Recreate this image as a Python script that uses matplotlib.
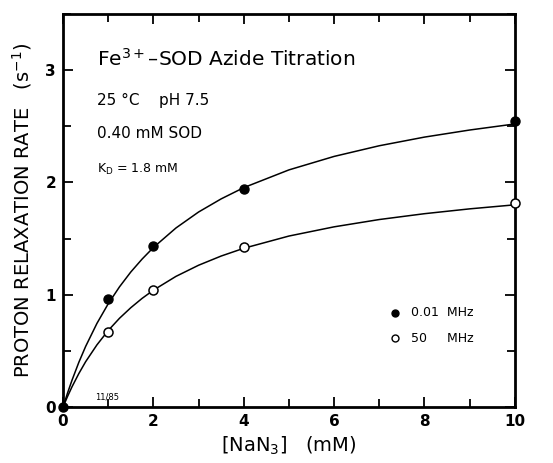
import matplotlib
matplotlib.use("Agg")
import matplotlib.pyplot as plt
from matplotlib.ticker import MultipleLocator

# measured points
x_pts = [0, 1, 2, 4, 10]
y_low = [0, 0.96, 1.43, 1.94, 2.55]    # 0.01 MHz (filled)
y_high = [0, 0.67, 1.04, 1.42, 1.82]   # 50 MHz (open)

# curves
x_curve = [0, 0.1, 0.2, 0.35, 0.5, 0.75, 1, 1.25, 1.5, 1.75, 2, 2.5, 3, 3.5,
           4, 5, 6, 7, 8, 9, 10]
c_low = [0, 0.125, 0.240, 0.398, 0.539, 0.744, 0.919, 1.070, 1.202, 1.317,
         1.42, 1.594, 1.736, 1.853, 1.953, 2.111, 2.231, 2.326, 2.403, 2.466, 2.52]
c_high = [0, 0.094, 0.181, 0.298, 0.403, 0.553, 0.681, 0.790, 0.884, 0.967,
          1.04, 1.163, 1.262, 1.344, 1.413, 1.522, 1.604, 1.669, 1.721, 1.764, 1.80]

x_ticks = [0, 2, 4, 6, 8, 10]
y_ticks = [0, 1, 2, 3]

plt.rcParams['font.family'] = ['DejaVu Sans']
fig = plt.figure(figsize=(5.53, 4.63), dpi=100)
ax = fig.add_axes([0.114, 0.121, 0.817, 0.849])

ax.plot(x_curve, c_low, color='black', lw=1.1, zorder=2)
ax.plot(x_curve, c_high, color='black', lw=1.1, zorder=2)
ax.plot(x_pts, y_low, 'o', ms=6.5, mfc='black', mec='black', zorder=3, clip_on=False)
ax.plot(x_pts[1:], y_high[1:], 'o', ms=6.5, mfc='white', mec='black', mew=1.1,
        zorder=3, clip_on=False)

ax.set_xlim(0, 10)
ax.set_ylim(0, 3.5)
ax.set_xticks(x_ticks)
ax.set_yticks(y_ticks)
ax.xaxis.set_minor_locator(MultipleLocator(1))
ax.yaxis.set_minor_locator(MultipleLocator(0.5))
ax.tick_params(which='both', direction='in', top=True, right=True, width=1.3)
ax.tick_params(which='major', length=7, labelsize=11, pad=5)
ax.tick_params(which='minor', length=6)
for lab in ax.get_xticklabels() + ax.get_yticklabels():
    lab.set_fontweight('bold')
for s in ax.spines.values():
    s.set_linewidth(2)

ax.set_xlabel(r'[NaN$_3$]   (mM)', fontsize=14, labelpad=4)
ax.set_ylabel(r'PROTON RELAXATION RATE   (s$^{-1}$)', fontsize=14, labelpad=8)

ax.text(0.075, 0.885, 'Fe$^{3+}$\u2013SOD Azide Titration', transform=ax.transAxes,
        fontsize=14.5, va='center', ha='left')
ax.text(0.075, 0.78, '25 \u00b0C    pH 7.5', transform=ax.transAxes,
        fontsize=11, va='center', ha='left')
ax.text(0.075, 0.695, '0.40 mM SOD', transform=ax.transAxes,
        fontsize=11, va='center', ha='left')
ax.text(0.075, 0.605, r'K$_\mathrm{D}$ = 1.8 mM', transform=ax.transAxes,
        fontsize=9, va='center', ha='left')

# legend drawn manually
ax.plot([0.735], [0.24], 'o', ms=5, mfc='black', mec='black', transform=ax.transAxes)
ax.plot([0.735], [0.175], 'o', ms=5, mfc='white', mec='black', transform=ax.transAxes)
ax.text(0.77, 0.24, '0.01  MHz', transform=ax.transAxes, fontsize=9, va='center')
ax.text(0.77, 0.175, '50     MHz', transform=ax.transAxes, fontsize=9, va='center')

ax.text(0.07, 0.025, '11/85', transform=ax.transAxes, fontsize=6, va='center')

fig.savefig('out.png', dpi=100)
